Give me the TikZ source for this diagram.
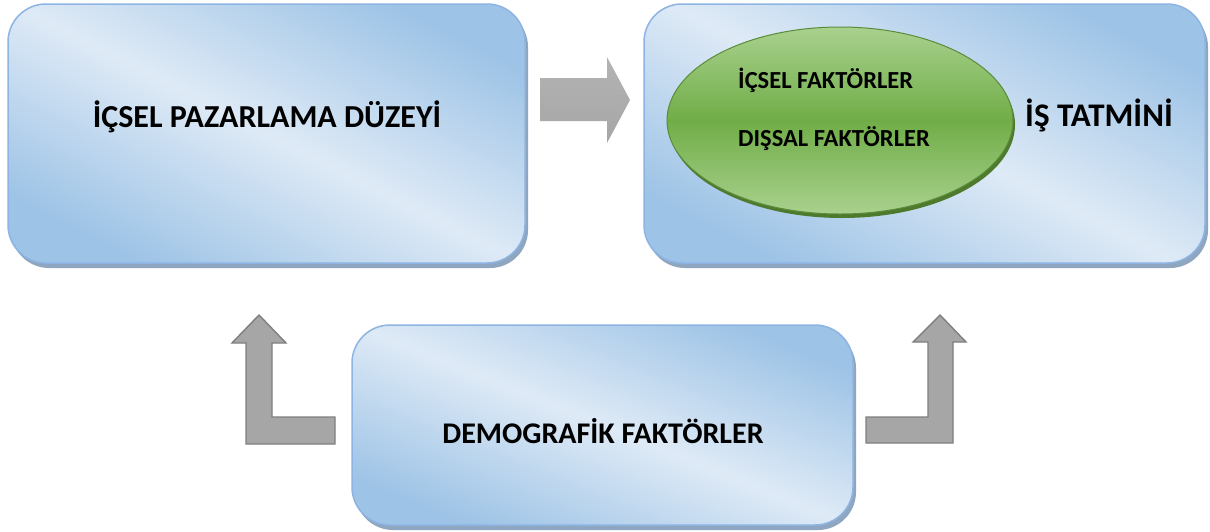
\documentclass[tikz,border=0pt]{standalone}
\usepackage{fontspec}
\setmainfont{Carlito}
\usetikzlibrary{shadows,shapes.geometric}

\definecolor{boxdark}{HTML}{9DC3E6}
\definecolor{boxlight}{HTML}{DEEAF6}
\definecolor{boxedge}{HTML}{8DB4E2}
\definecolor{boxshadow}{HTML}{8FA6C0}
\definecolor{leafhi}{HTML}{A9D18E}
\definecolor{leafmid}{HTML}{70AD47}
\definecolor{leafedge}{HTML}{5B8C3A}
\definecolor{leafshadow}{HTML}{4E7A2E}
\definecolor{arrowfill}{HTML}{A6A6A6}
\definecolor{arrowedge}{HTML}{7F7F7F}

\begin{document}
\begin{tikzpicture}[x=1pt,y=-1pt,
  panel/.style={rectangle, rounded corners=38pt, draw=boxedge, line width=1.5pt,
    top color=boxdark, bottom color=boxdark, middle color=boxlight, shading angle=-27,
    drop shadow={shadow xshift=3pt, shadow yshift=-5pt, fill=boxshadow, opacity=1},
    inner sep=0pt},
  leaf/.style={ellipse, draw=leafedge, line width=1pt,
    top color=leafhi, bottom color=leafhi, middle color=leafmid,
    drop shadow={shadow xshift=2pt, shadow yshift=-4pt, fill=leafshadow, opacity=1},
    inner sep=0pt},
  big/.style={font=\fontsize{32}{38}\selectfont\bfseries, inner sep=0pt},
  bigger/.style={font=\fontsize{33}{39}\selectfont\bfseries, inner sep=0pt},
  mid/.style={font=\fontsize{30}{36}\selectfont\bfseries, inner sep=0pt},
  small/.style={font=\fontsize{24.5}{29}\selectfont\bfseries, inner sep=0pt},
  blockarrow/.style={top color=arrowfill!85!white, bottom color=arrowfill},
  bentarrow/.style={fill=arrowfill, draw=arrowedge, line width=1.4pt, line join=miter}]

\fill[white] (0,0) rectangle (1210,531);
\useasboundingbox (0,0) rectangle (1210,531);

% the three panels
\node[panel, minimum width=517pt, minimum height=259pt] (inner) at (266.5,133.5) {};
\node[panel, minimum width=561pt, minimum height=259pt] (satis) at (924.5,133.5) {};
\node[panel, minimum width=501pt, minimum height=200pt, shading angle=-22] (demo) at (602.5,425) {};

% factors ellipse inside the satisfaction panel
\node[leaf, minimum width=346pt, minimum height=187pt] (factors) at (840,120.5) {};

% labels
\node[big, anchor=base] (innerlbl) at (267,127) {İÇSEL PAZARLAMA DÜZEYİ};
\node[bigger, anchor=base west] (satislbl) at (1025,126) {İŞ TATMİNİ};
\node[mid, anchor=base] (demolbl) at (603,443) {DEMOGRAFİK FAKTÖRLER};
\node[small, anchor=base west] (intlbl) at (738,88) {İÇSEL FAKTÖRLER};
\node[small, anchor=base west] (extlbl) at (738,146) {DIŞSAL FAKTÖRLER};

% block arrow between the upper panels
\path[blockarrow] (540,78) -- (607,78) -- (607,57) -- (630,100) -- (607,143)
  -- (607,121) -- (540,121) -- cycle;

% bent arrows rising from the demographic panel
\path[bentarrow] (259,315) -- (286,343) -- (272,343) -- (272,417) -- (335,417)
  -- (335,444) -- (246,444) -- (246,343) -- (232,343) -- cycle;
\path[bentarrow] (940,315) -- (966,342) -- (953,342) -- (953,443) -- (866,443)
  -- (866,417) -- (928,417) -- (928,342) -- (913,342) -- cycle;

\end{tikzpicture}
\end{document}
